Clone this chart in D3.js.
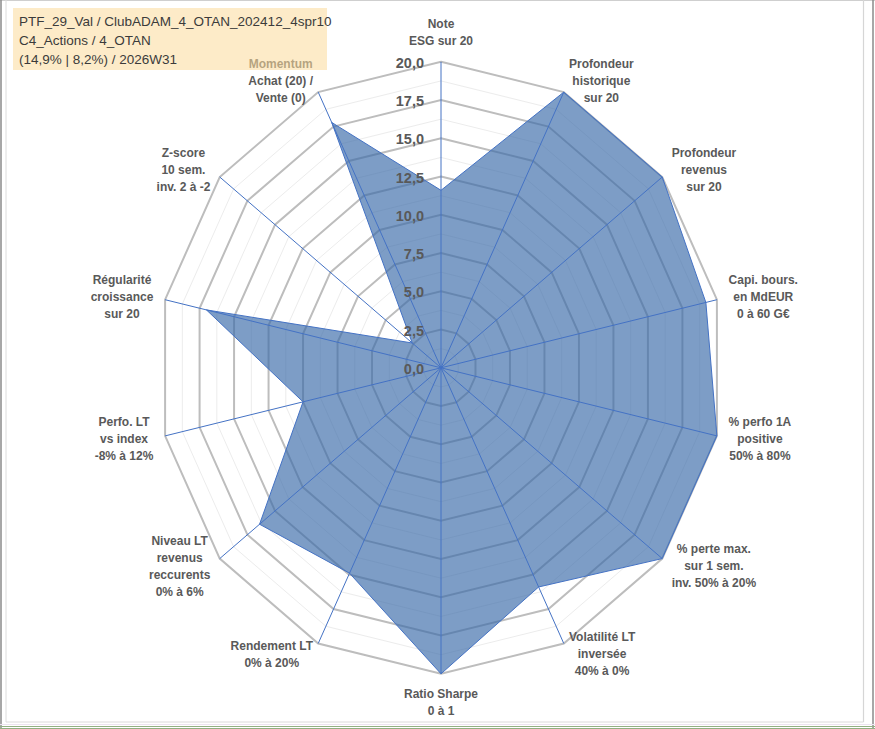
<!DOCTYPE html>
<html lang="fr">
<head>
    <meta charset="UTF-8">
    <title>Radar PTF_29_Val</title>
    <script src="https://d3js.org/d3.v7.min.js"></script>
    <style>
        body {
            margin: 0;
            background: #fff;
        }
        svg {
            display: block;
            font-family: "Liberation Sans", Arial, sans-serif;
        }
        .axis-label {
            font-weight: 700;
            font-size: 12px;
            fill: #595959;
        }
        .tick-label {
            font-weight: 700;
            font-size: 14.5px;
            fill: #595959;
        }
        .title {
            font-size: 13.5px;
            fill: #3b3b3b;
        }
    </style>
</head>
<body>

    <div id="container"></div>

    <script>

        // Axis labels (one per spoke, clockwise from top)
        const categories = [
            "Note\nESG sur 20",
            "Profondeur\nhistorique\nsur 20",
            "Profondeur\nrevenus\nsur 20",
            "Capi. bours.\nen MdEUR\n0 à 60 G€",
            "% perfo 1A\npositive\n50% à 80%",
            "% perte max.\nsur 1 sem.\ninv. 50% à 20%",
            "Volatilité LT\ninversée\n40% à 0%",
            "Ratio Sharpe\n0 à 1",
            "Rendement LT\n0% à 20%",
            "Niveau LT\nrevenus\nreccurents\n0% à 6%",
            "Perfo. LT\nvs index\n-8% à 12%",
            "Régularité\ncroissance\nsur 20",
            "Z-score\n10 sem.\ninv. 2 à -2",
            "Momentum\nAchat (20) /\nVente (0)"
        ];

        // Scores
        const values = [11.6, 20, 20, 19.2, 20, 20, 15.9, 20, 14.9, 16.4, 10.0, 17.0, 2.6, 17.8];

        // Radial ticks
        const majorTicks = [0, 2.5, 5, 7.5, 10, 12.5, 15, 17.5, 20];
        const minorTicks = [1.25, 3.75, 6.25, 8.75, 11.25, 13.75, 16.25, 18.75];

        const titleLines = [
            "PTF_29_Val / ClubADAM_4_OTAN_202412_4spr10",
            "C4_Actions / 4_OTAN",
            "(14,9% | 8,2%) / 2026W31"
        ];

        const width = 875;
        const height = 729;
        const cx = 441;
        const cy = 367.8;

        const svg = d3.select('#container')
            .append('svg')
            .attr('width', width)
            .attr('height', height);

        // the plot is a bit squeezed horizontally, so two radial scales
        const rX = d3.scaleLinear().domain([0, 20]).range([0, 283]);
        const rY = d3.scaleLinear().domain([0, 20]).range([0, 306]);
        const angle = d3.scaleLinear().domain([0, categories.length]).range([0, 2 * Math.PI]);

        const pt = (i, v) => [
            cx + rX(v) * Math.sin(angle(i)),
            cy - rY(v) * Math.cos(angle(i))
        ];

        const ring = v => d3.line().curve(d3.curveLinearClosed)(categories.map((c, i) => pt(i, v)));

        // Minor rings
        svg.selectAll('.minor')
            .data(minorTicks)
            .enter()
            .append('path')
            .attr('class', 'minor')
            .attr('d', d => ring(d))
            .attr('fill', 'none')
            .attr('stroke', '#ececec')
            .attr('stroke-width', 1);

        // Major rings
        svg.selectAll('.major')
            .data(majorTicks.filter(d => d > 0))
            .enter()
            .append('path')
            .attr('class', 'major')
            .attr('d', d => ring(d))
            .attr('fill', 'none')
            .attr('stroke', '#bdbdbd')
            .attr('stroke-width', 2);

        // Filled area
        const area = d3.line().curve(d3.curveLinearClosed)(values.map((v, i) => pt(i, v)));

        svg.append('path')
            .attr('d', area)
            .attr('fill', '#3a6aa8')
            .attr('fill-opacity', 0.66)
            .attr('stroke', 'none');

        // Spokes
        svg.selectAll('.spoke')
            .data(categories)
            .enter()
            .append('line')
            .attr('class', 'spoke')
            .attr('x1', cx)
            .attr('y1', cy)
            .attr('x2', (d, i) => pt(i, 20)[0])
            .attr('y2', (d, i) => pt(i, 20)[1])
            .attr('stroke', '#4472c4')
            .attr('stroke-width', 1);

        svg.append('path')
            .attr('d', area)
            .attr('fill', 'none')
            .attr('stroke', '#4472c4')
            .attr('stroke-width', 1);

        // Tick labels on the vertical axis
        const fmt = d => d3.format('.1f')(d).replace('.', ',');

        svg.selectAll('.tick-label')
            .data(majorTicks)
            .enter()
            .append('text')
            .attr('class', 'tick-label')
            .attr('x', cx - 17)
            .attr('y', d => cy - rY(d) + 1)
            .attr('text-anchor', 'end')
            .attr('dominant-baseline', 'central')
            .text(fmt);

        // Axis labels, placed next to the outer vertex
        const gap = 12;
        const lineH = 17;

        categories.forEach((c, i) => {
            const a = angle(i);
            const s = Math.sin(a);
            const co = Math.cos(a);
            const v = pt(i, 20);
            const px = v[0] + s * gap;
            const py = v[1] - co * gap;
            const lines = c.split('\n');
            const n = lines.length;

            const g = svg.append('g');
            const texts = g.selectAll('text')
                .data(lines)
                .enter()
                .append('text')
                .attr('class', 'axis-label')
                .attr('text-anchor', 'middle')
                .attr('dominant-baseline', 'central')
                .text(d => d);

            let maxW = 0;
            texts.each(function(){ maxW = Math.max(maxW, this.getComputedTextLength()); });

            let xc = px;
            let y0;
            if (Math.abs(s) < 0.01) {
                // top or bottom label
                y0 = co > 0 ? py - (n - 0.5) * lineH : py + lineH / 2;
            } else {
                xc = s > 0 ? px + maxW / 2 : px - maxW / 2;
                y0 = py - (n - 1) / 2 * lineH;
            }

            texts.attr('x', xc)
                .attr('y', (d, k) => y0 + k * lineH);
        });

        // Title box (translucent, lies over the "Momentum" label)
        svg.append('rect')
            .attr('x', 13)
            .attr('y', 8)
            .attr('width', 314)
            .attr('height', 62)
            .attr('fill', '#fbdc9e')
            .attr('fill-opacity', 0.57);

        svg.selectAll('.title')
            .data(titleLines)
            .enter()
            .append('text')
            .attr('class', 'title')
            .attr('x', 19)
            .attr('y', (d, i) => 26 + i * 19)
            .text(d => d);

        // Frame
        const frame = [
            [0, 0.5, width, 0.5, '#cfcfcf', 1],
            [1, 0, 1, height, '#8a8a8a', 1.5],
            [873, 0, 873, height, '#8a8a8a', 1.5],
            [6, 0, 6, 722, '#dcdcdc', 1],
            [863.5, 0, 863.5, 722, '#d6d6d6', 1.2],
            [6, 722, 863.5, 722, '#dcdcdc', 1.2],
            [0, 724.5, width, 724.5, '#ece4f0', 1],
            [0, 726.5, width, 726.5, '#93b083', 1.2],
            [0, 728.5, width, 728.5, '#93b083', 1]
        ];

        svg.selectAll('.frame')
            .data(frame)
            .enter()
            .append('line')
            .attr('class', 'frame')
            .attr('x1', d => d[0])
            .attr('y1', d => d[1])
            .attr('x2', d => d[2])
            .attr('y2', d => d[3])
            .attr('stroke', d => d[4])
            .attr('stroke-width', d => d[5]);

    </script>

</body>
</html>
